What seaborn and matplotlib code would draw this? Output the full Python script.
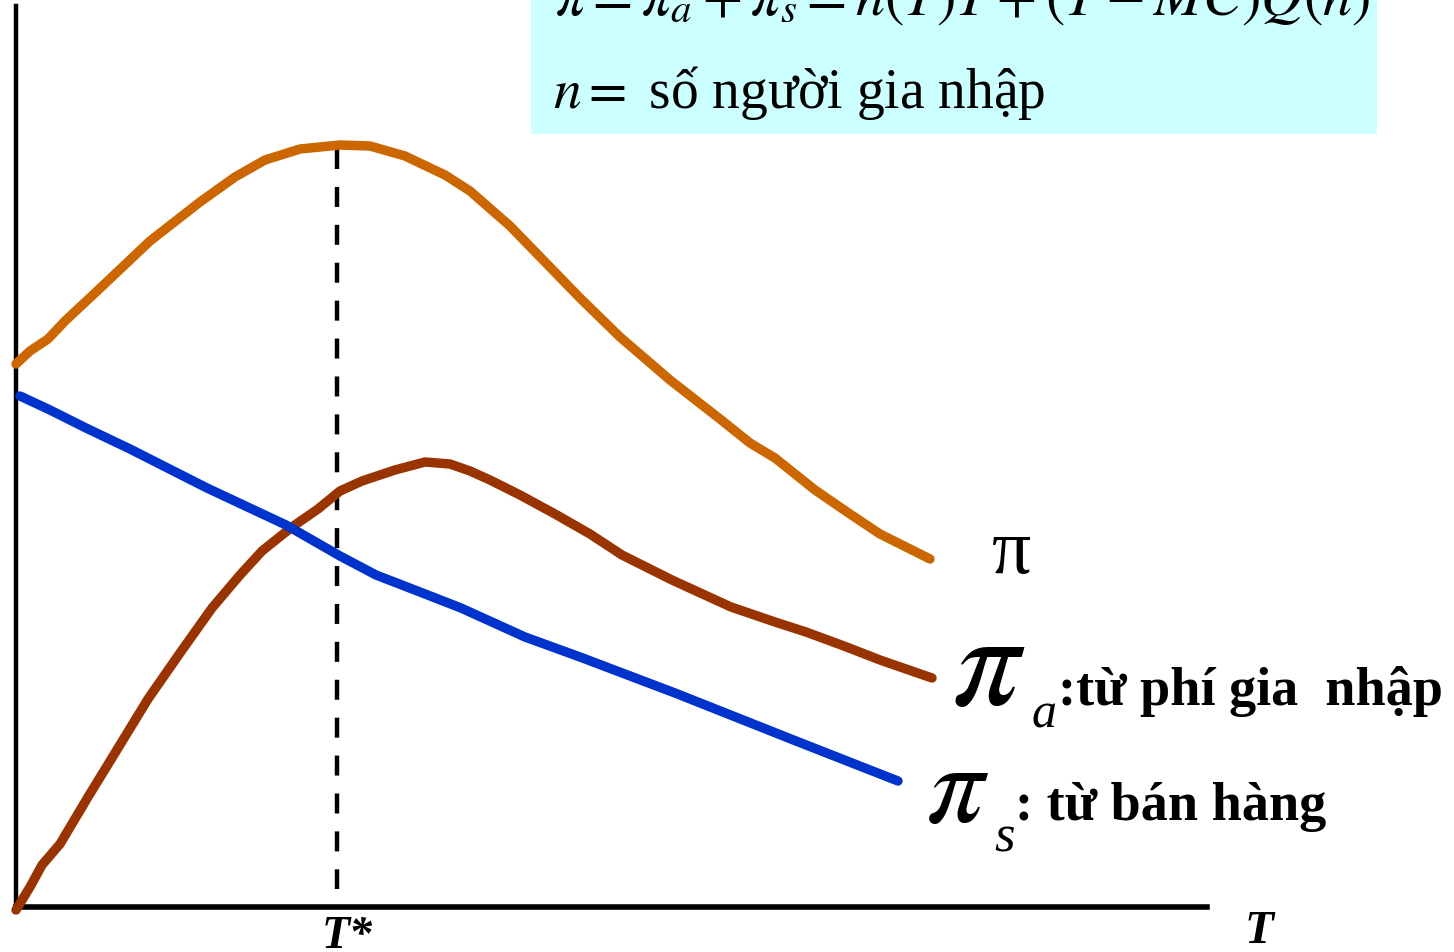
import matplotlib
matplotlib.use("Agg")
import matplotlib.pyplot as plt
from matplotlib.patches import Rectangle
import seaborn as sns

# curve readings (T, profit) in chart units
t_pi = [0, 1.4, 3.2, 4.9, 7.9, 13.4, 18.4, 21.9, 24.9, 28.4, 32.4, 35.4, 38.9, 42.9,
        45.4, 49.4, 52.9, 56.4, 60.4, 65.4, 70.4, 73.4, 75.9, 79.9, 83.4, 86.4, 91.4]
pi_total = [54.3, 55.6, 56.8, 58.6, 61.4, 66.6, 70.5, 73.0, 74.7, 75.8, 76.2, 76.1, 75.1, 73.2,
            71.6, 68.1, 64.5, 60.9, 57.0, 52.7, 48.8, 46.4, 44.9, 41.7, 39.3, 37.3, 34.8]

t_pa = [0, 1.4, 2.6, 4.4, 7.2, 9.9, 13.2, 16.4, 19.6, 22.4, 24.6, 27.6, 30.2, 32.4, 34.6, 37.9,
        40.9, 43.4, 45.4, 47.4, 50.4, 53.9, 57.4, 60.6, 65.6, 71.5, 75.9, 79.0, 82.8, 86.4, 91.6]
pi_a = [-0.3, 2.0, 4.2, 6.3, 11.0, 15.4, 20.8, 25.4, 29.9, 33.2, 35.6, 38.0, 39.8, 41.6, 42.6, 43.7,
        44.5, 44.3, 43.6, 42.7, 41.2, 39.3, 37.3, 35.2, 32.7, 30.0, 28.5, 27.5, 26.1, 24.7, 22.9]

t_ps = [0.4, 3.4, 7.0, 11.4, 19.1, 27.0, 32.4, 36.0, 40.4, 44.5, 50.9, 56.4, 65.9, 78.0, 88.2]
pi_s = [51.1, 49.7, 47.9, 45.8, 41.9, 38.2, 35.1, 33.2, 31.5, 29.9, 27.0, 25.0, 21.4, 16.6, 12.6]

t_star = 32.1
t_star_span = [75.8, 1.8]

formula = r"$\pi = \pi_a + \pi_s = n(T)T + (T - MC)Q(n)$"
n_def = r"$n =$ số người gia nhập"

sns.set_theme(style="white")
plt.rcParams["font.family"] = ["Liberation Serif", "DejaVu Serif"]
plt.rcParams["mathtext.fontset"] = "stix"
plt.rcParams["text.color"] = "black"

W, H = 1454, 953
fig = plt.figure(figsize=(W / 100, H / 100), dpi=100)
fig.patch.set_facecolor("white")

# definition box at the top (behind the transparent axes)
fig.add_artist(Rectangle((531 / W, 1 - 135 / H), 846 / W, 135 / H, transform=fig.transFigure,
                         facecolor="#CCFFFF", edgecolor="none", zorder=-1))

ax = fig.add_axes([16 / W, 45 / H, (1207 - 16) / W, (908 - 7) / H])
ax.patch.set_visible(False)
ax.set_xlim(0, 119.1)
ax.set_ylim(0, 90.1)

for x, y, c in [(t_pi, pi_total, "#CC6600"), (t_pa, pi_a, "#993300"), (t_ps, pi_s, "#0033CC")]:
    sns.lineplot(x=x, y=y, ax=ax, color=c, linewidth=6.8, sort=False, estimator=None,
                 solid_capstyle="round", solid_joinstyle="round", clip_on=False, zorder=3)

ax.plot([t_star, t_star], t_star_span, color="black", lw=3.2, dashes=(4.5, 4.03), zorder=2)

ax.set_xticks([])
ax.set_yticks([])
ax.set_xlabel("")
ax.set_ylabel("")
for s in ["top", "right"]:
    ax.spines[s].set_visible(False)
ax.spines["left"].set_linewidth(3.2)
ax.spines["bottom"].set_linewidth(4.0)
ax.spines["left"].set_color("black")
ax.spines["bottom"].set_color("black")

# curve labels
ax.text(99.6, 33.5, "π", fontsize=56, ha="center", va="baseline", clip_on=False)
ax.text(97.3, 20.3, r"$\pi$", fontsize=96, ha="center", va="baseline", clip_on=False)
ax.text(101.6, 18.0, "a", fontsize=36, style="italic", ha="left", va="baseline", clip_on=False)
ax.text(104.2, 20.3, ":từ phí gia  nhập", fontsize=39, weight="bold", ha="left", va="baseline",
        clip_on=False)
ax.text(94.2, 8.6, r"$\pi$", fontsize=82, ha="center", va="baseline", clip_on=False)
ax.text(97.8, 5.6, "s", fontsize=38, style="italic", ha="left", va="baseline", clip_on=False)
ax.text(99.9, 8.8, ": từ bán hàng", fontsize=39, weight="bold", ha="left", va="baseline",
        clip_on=False)

ax.text(33.1, -4.0, "T*", fontsize=33, weight="bold", style="italic", ha="center", va="baseline",
        clip_on=False)
ax.text(124.3, -3.5, "T", fontsize=34, weight="bold", style="italic", ha="center", va="baseline",
        clip_on=False)

fig.text(555 / W, 1 - 15 / H, formula, fontsize=42, ha="left", va="baseline")
fig.text(553 / W, 1 - 108 / H, n_def, fontsize=40, ha="left", va="baseline")

fig.savefig("out.png", dpi=100, facecolor="white")
